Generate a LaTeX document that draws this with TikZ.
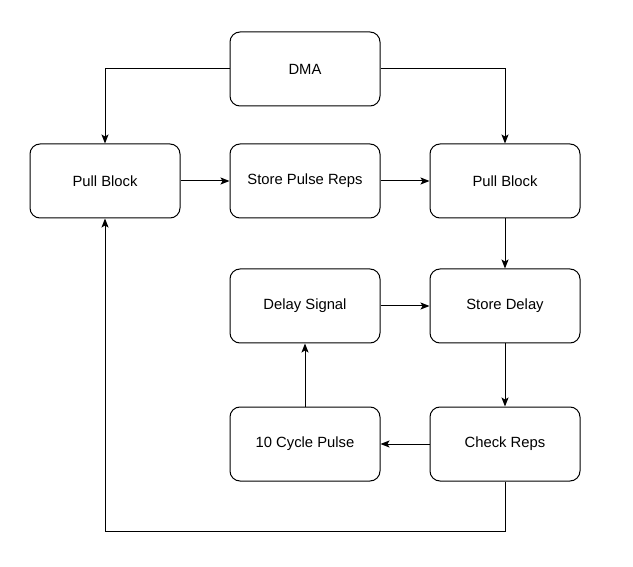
\documentclass[tikz,border=0pt]{standalone}
\usepackage{fontspec}
\setmainfont{Liberation Sans}
\usetikzlibrary{arrows.meta}
\begin{document}
\begin{tikzpicture}[x=1pt,y=-1pt,
  box/.style={draw,line width=1pt,rounded corners=10pt,minimum width=150pt,minimum height=74pt,inner sep=0pt,font=\fontsize{14.8}{17}\selectfont},
  arr/.style={draw,line width=1pt,-{Stealth[length=9pt,width=7pt,inset=2pt]}}]
\useasboundingbox (0,0) rectangle (633,567);
\node[box] (dma) at (305,69) {DMA};
\node[box] (pbl) at (105,181) {Pull Block};
\node[box] (spr) at (305,181) {Store Pulse Reps};
\node[box] (pbr) at (505,181) {Pull Block};
\node[box] (ds) at (305,306) {Delay Signal};
\node[box] (sd) at (505,306) {Store Delay};
\node[box] (cp) at (305,444) {10 Cycle Pulse};
\node[box] (cr) at (505,444) {Check Reps};
\coordinate (loop) at (505,531);
\draw[arr] (dma.west) -| (pbl.north);
\draw[arr] (dma.east) -| (pbr.north);
\draw[arr] (pbl) -- (spr);
\draw[arr] (spr) -- (pbr);
\draw[arr] (pbr) -- (sd);
\draw[arr] (ds) -- (sd);
\draw[arr] (sd) -- (cr);
\draw[arr] (cr) -- (cp);
\draw[arr] (cp) -- (ds);
\draw[arr] (cr.south) -- (loop) -| (pbl.south);
\end{tikzpicture}
\end{document}
